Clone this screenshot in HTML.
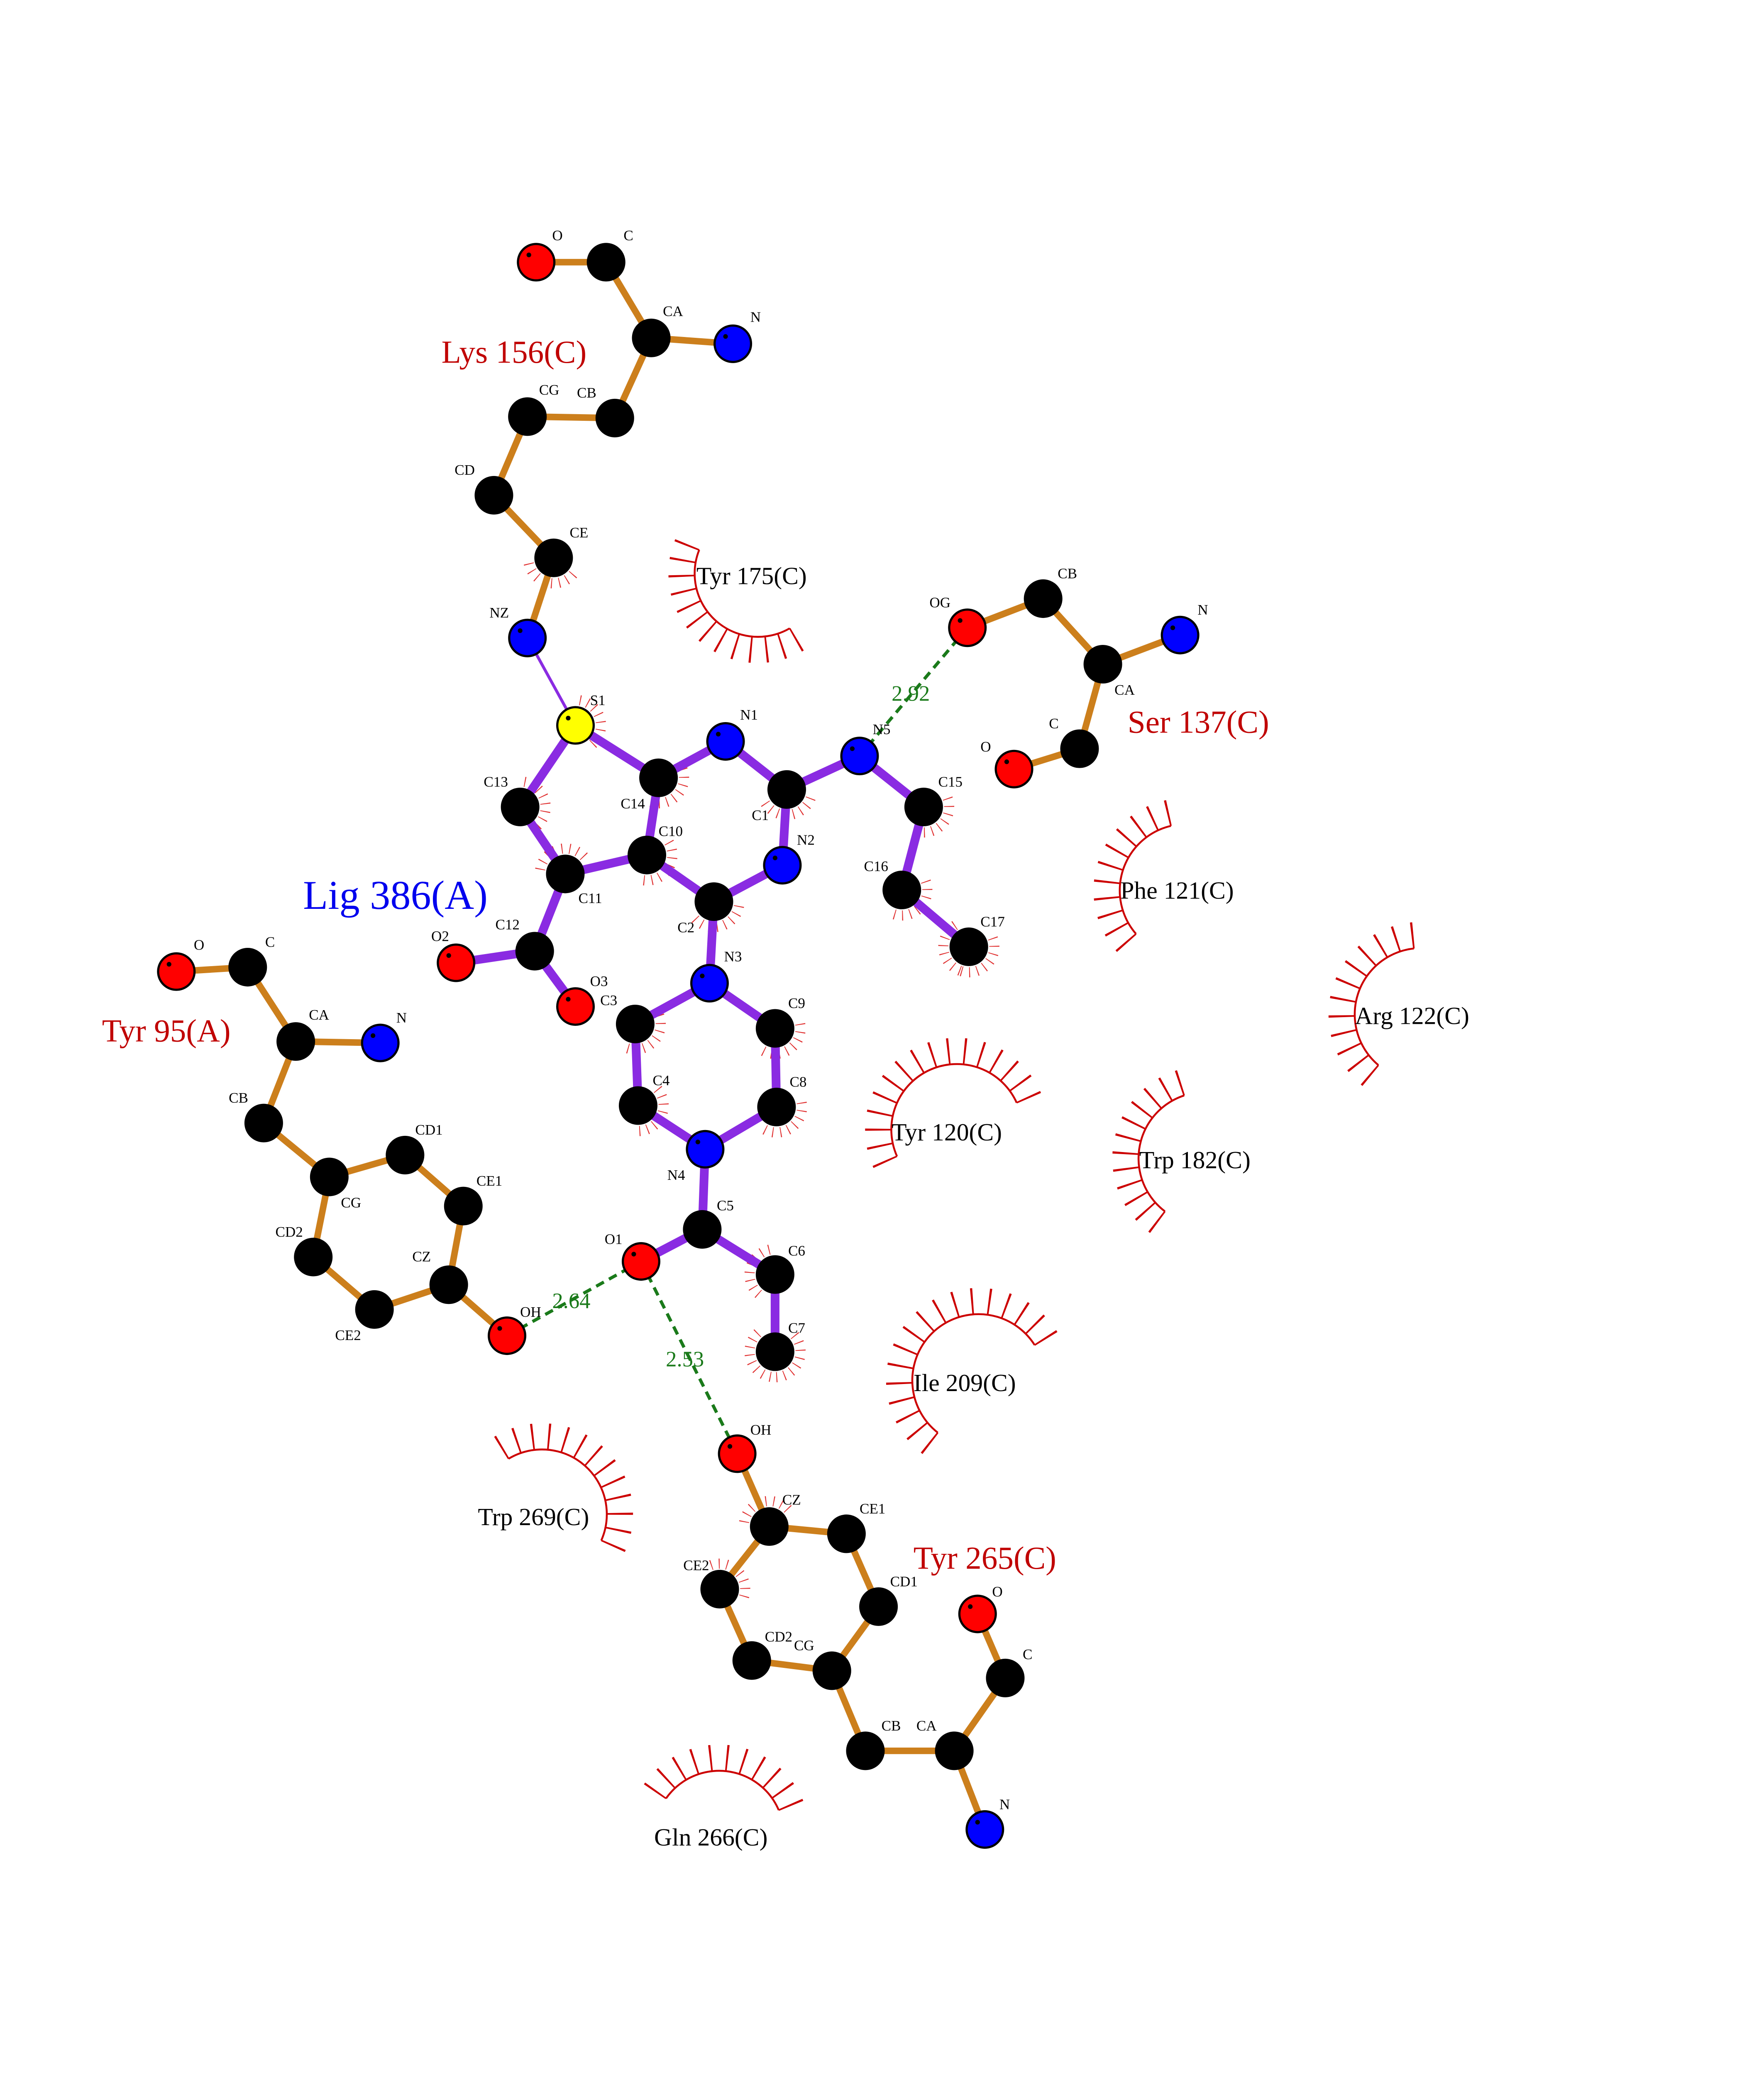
<!DOCTYPE html>
<html><head><meta charset="utf-8"><style>
html,body{margin:0;padding:0;background:#fff;width:4250px;height:5500px;overflow:hidden;}
svg{display:block;position:absolute;left:0;top:0;}
text{font-family:"Liberation Serif",serif;}
.a{font-size:10px;fill:#000;}
.r{font-size:22px;fill:#c00000;}
.h{font-size:17px;fill:#000;}
.d{font-size:15px;fill:#1a7a1a;}
.k{fill:#000;stroke:#000;stroke-width:1.5}
.o{fill:#ff0000;stroke:#000;stroke-width:1.5}
.b{fill:#0000ff;stroke:#000;stroke-width:1.5}
.y{fill:#ffff00;stroke:#000;stroke-width:1.5}
.sb{fill:none;stroke:#e03030;stroke-width:7;stroke-dasharray:2 16 2 16 2 16 2 16 2 16 2 16 2 16 2 400}
</style></head><body>
<svg width="4250" height="5500" viewBox="0 0 1210.8 1567" xmlns="http://www.w3.org/2000/svg">
<g fill="none" stroke="#cc0000" stroke-width="1.3">
<circle cx="520.3" cy="393.7" r="43.5" pathLength="360" stroke-dasharray="142 360" transform="rotate(60 520.3 393.7)"/>
<circle cx="520.3" cy="393.7" r="52.5" stroke-width="18" pathLength="360" stroke-dasharray="1.4 10.43 1.4 10.43 1.4 10.43 1.4 10.43 1.4 10.43 1.4 10.43 1.4 10.43 1.4 10.43 1.4 10.43 1.4 10.43 1.4 10.43 1.4 10.43 1.4 400" transform="rotate(59.3 520.3 393.7)"/>
<circle cx="814.1" cy="611.3" r="45.5" pathLength="360" stroke-dasharray="118 360" transform="rotate(139 814.1 611.3)"/>
<circle cx="814.1" cy="611.3" r="54.5" stroke-width="18" pathLength="360" stroke-dasharray="1.4 10.4 1.4 10.4 1.4 10.4 1.4 10.4 1.4 10.4 1.4 10.4 1.4 10.4 1.4 10.4 1.4 10.4 1.4 10.4 1.4 400" transform="rotate(138.3 814.1 611.3)"/>
<circle cx="975.4" cy="696.4" r="45.5" pathLength="360" stroke-dasharray="134 360" transform="rotate(130 975.4 696.4)"/>
<circle cx="975.4" cy="696.4" r="54.5" stroke-width="18" pathLength="360" stroke-dasharray="1.4 10.78 1.4 10.78 1.4 10.78 1.4 10.78 1.4 10.78 1.4 10.78 1.4 10.78 1.4 10.78 1.4 10.78 1.4 10.78 1.4 10.78 1.4 400" transform="rotate(129.3 975.4 696.4)"/>
<circle cx="656.8" cy="775.5" r="45" pathLength="360" stroke-dasharray="180 360" transform="rotate(156 656.8 775.5)"/>
<circle cx="656.8" cy="775.5" r="54" stroke-width="18" pathLength="360" stroke-dasharray="1.4 10.6 1.4 10.6 1.4 10.6 1.4 10.6 1.4 10.6 1.4 10.6 1.4 10.6 1.4 10.6 1.4 10.6 1.4 10.6 1.4 10.6 1.4 10.6 1.4 10.6 1.4 10.6 1.4 10.6 1.4 400" transform="rotate(155.3 656.8 775.5)"/>
<circle cx="827" cy="795.3" r="45.5" pathLength="360" stroke-dasharray="125 360" transform="rotate(127 827 795.3)"/>
<circle cx="827" cy="795.3" r="54.5" stroke-width="18" pathLength="360" stroke-dasharray="1.4 9.96 1.4 9.96 1.4 9.96 1.4 9.96 1.4 9.96 1.4 9.96 1.4 9.96 1.4 9.96 1.4 9.96 1.4 9.96 1.4 9.96 1.4 400" transform="rotate(126.3 827 795.3)"/>
<circle cx="671.7" cy="947.7" r="45.5" pathLength="360" stroke-dasharray="200 360" transform="rotate(128 671.7 947.7)"/>
<circle cx="671.7" cy="947.7" r="54.5" stroke-width="18" pathLength="360" stroke-dasharray="1.4 11.1 1.4 11.1 1.4 11.1 1.4 11.1 1.4 11.1 1.4 11.1 1.4 11.1 1.4 11.1 1.4 11.1 1.4 11.1 1.4 11.1 1.4 11.1 1.4 11.1 1.4 11.1 1.4 11.1 1.4 11.1 1.4 400" transform="rotate(127.3 671.7 947.7)"/>
<circle cx="372" cy="1039.6" r="44.5" pathLength="360" stroke-dasharray="145 360" transform="rotate(239 372 1039.6)"/>
<circle cx="372" cy="1039.6" r="53.5" stroke-width="18" pathLength="360" stroke-dasharray="1.4 10.68 1.4 10.68 1.4 10.68 1.4 10.68 1.4 10.68 1.4 10.68 1.4 10.68 1.4 10.68 1.4 10.68 1.4 10.68 1.4 10.68 1.4 10.68 1.4 400" transform="rotate(238.3 372 1039.6)"/>
<circle cx="493.6" cy="1260.2" r="44.5" pathLength="360" stroke-dasharray="122 360" transform="rotate(215 493.6 1260.2)"/>
<circle cx="493.6" cy="1260.2" r="53.5" stroke-width="18" pathLength="360" stroke-dasharray="1.4 10.8 1.4 10.8 1.4 10.8 1.4 10.8 1.4 10.8 1.4 10.8 1.4 10.8 1.4 10.8 1.4 10.8 1.4 10.8 1.4 400" transform="rotate(214.3 493.6 1260.2)"/>
</g>
<g>
<circle class="sb" cx="380" cy="383" r="17.5" pathLength="360" transform="rotate(40 380 383)"/>
<circle class="sb" cx="395" cy="498" r="17.5" pathLength="360" transform="rotate(-80 395 498)"/>
<circle class="sb" cx="388" cy="600" r="17.5" pathLength="360" transform="rotate(190 388 600)"/>
<circle class="sb" cx="490" cy="619" r="17.5" pathLength="360" transform="rotate(10 490 619)"/>
<circle class="sb" cx="540" cy="542" r="17.5" pathLength="360" transform="rotate(20 540 542)"/>
<circle class="sb" cx="634" cy="554" r="17.5" pathLength="360" transform="rotate(-20 634 554)"/>
<circle class="sb" cx="619" cy="611" r="17.5" pathLength="360" transform="rotate(-20 619 611)"/>
<circle class="sb" cx="665" cy="650" r="17.5" pathLength="360" transform="rotate(-20 665 650)"/>
<circle class="sb" cx="665" cy="650" r="17.5" pathLength="360" transform="rotate(110 665 650)"/>
<circle class="sb" cx="533" cy="760" r="17.5" pathLength="360" transform="rotate(-10 533 760)"/>
<circle class="sb" cx="532" cy="706" r="17.5" pathLength="360" transform="rotate(-10 532 706)"/>
<circle class="sb" cx="438" cy="759" r="17.5" pathLength="360" transform="rotate(-40 438 759)"/>
<circle class="sb" cx="436" cy="703" r="17.5" pathLength="360" transform="rotate(-20 436 703)"/>
<circle class="sb" cx="532" cy="875" r="17.5" pathLength="360" transform="rotate(130 532 875)"/>
<circle class="sb" cx="532" cy="928" r="17.5" pathLength="360" transform="rotate(-40 532 928)"/>
<circle class="sb" cx="532" cy="928" r="17.5" pathLength="360" transform="rotate(100 532 928)"/>
<circle class="sb" cx="452" cy="534" r="17.5" pathLength="360" transform="rotate(-20 452 534)"/>
<circle class="sb" cx="357" cy="554" r="17.5" pathLength="360" transform="rotate(-80 357 554)"/>
<circle class="sb" cx="444" cy="587" r="17.5" pathLength="360" transform="rotate(-30 444 587)"/>
<circle class="sb" cx="528" cy="1048" r="17.5" pathLength="360" transform="rotate(190 528 1048)"/>
<circle class="sb" cx="494" cy="1091" r="17.5" pathLength="360" transform="rotate(250 494 1091)"/>
</g>
<path fill="none" stroke="#cc7f1c" stroke-width="4.5" d="M368 180L416 180M416 180L447 232M447 232L503 236M447 232L422 287M422 287L362 286M362 286L339 340M339 340L380 383M380 383L362 438M664 431L716 411M716 411L757 456M757 456L810 436M757 456L741 514M741 514L696 528M121 667L170 664M170 664L203 715M203 715L261 716M203 715L181 771M181 771L226 808M226 808L278 793M278 793L318 828M318 828L308 882M226 808L215 863M215 863L257 899M257 899L308 882M308 882L348 917M506 998L528 1048M528 1048L581 1053M581 1053L603 1103M603 1103L571 1147M528 1048L494 1091M494 1091L516 1140M516 1140L571 1147M571 1147L594 1202M594 1202L655 1202M655 1202L676 1256M655 1202L690 1152M690 1152L671 1108"/>
<path fill="none" stroke="#8a2be2" stroke-width="6" d="M395 498L452 534M395 498L357 554M357 554L388 600M388 600L444 587M444 587L452 534M452 534L498 509M498 509L540 542M540 542L590 519M540 542L537 594M537 594L490 619M490 619L444 587M490 619L487 675M388 600L367 653M367 653L313 661M367 653L395 691M487 675L436 703M487 675L532 706M436 703L438 759M532 706L533 760M438 759L484 789M533 760L484 789M484 789L482 844M482 844L440 866M482 844L532 875M532 875L532 928M590 519L634 554M634 554L619 611M619 611L665 650"/>
<path fill="none" stroke="#8a2be2" stroke-width="2" d="M362 438L395 498"/>
<path fill="none" stroke="#1a7a1a" stroke-width="2.2" stroke-dasharray="6 4" d="M664 431L590 519M348 917L440 866M440 866L506 998"/>
<g>
<circle class="o" cx="368" cy="180" r="12.5"/><circle class="k" cx="416" cy="180" r="12.5"/><circle class="k" cx="447" cy="232" r="12.5"/><circle class="b" cx="503" cy="236" r="12.5"/><circle class="k" cx="422" cy="287" r="12.5"/><circle class="k" cx="362" cy="286" r="12.5"/><circle class="k" cx="339" cy="340" r="12.5"/><circle class="k" cx="380" cy="383" r="12.5"/><circle class="b" cx="362" cy="438" r="12.5"/>
<circle class="y" cx="395" cy="498" r="12.5"/><circle class="k" cx="452" cy="534" r="12.5"/><circle class="b" cx="498" cy="509" r="12.5"/><circle class="k" cx="540" cy="542" r="12.5"/><circle class="b" cx="590" cy="519" r="12.5"/><circle class="b" cx="537" cy="594" r="12.5"/><circle class="k" cx="444" cy="587" r="12.5"/><circle class="k" cx="388" cy="600" r="12.5"/><circle class="k" cx="357" cy="554" r="12.5"/><circle class="k" cx="490" cy="619" r="12.5"/><circle class="b" cx="487" cy="675" r="12.5"/><circle class="k" cx="367" cy="653" r="12.5"/><circle class="o" cx="313" cy="661" r="12.5"/><circle class="o" cx="395" cy="691" r="12.5"/><circle class="k" cx="436" cy="703" r="12.5"/><circle class="k" cx="532" cy="706" r="12.5"/><circle class="k" cx="438" cy="759" r="12.5"/><circle class="k" cx="533" cy="760" r="12.5"/><circle class="b" cx="484" cy="789" r="12.5"/><circle class="k" cx="482" cy="844" r="12.5"/><circle class="o" cx="440" cy="866" r="12.5"/><circle class="k" cx="532" cy="875" r="12.5"/><circle class="k" cx="532" cy="928" r="12.5"/><circle class="k" cx="634" cy="554" r="12.5"/><circle class="k" cx="619" cy="611" r="12.5"/><circle class="k" cx="665" cy="650" r="12.5"/>
<circle class="o" cx="664" cy="431" r="12.5"/><circle class="k" cx="716" cy="411" r="12.5"/><circle class="k" cx="757" cy="456" r="12.5"/><circle class="b" cx="810" cy="436" r="12.5"/><circle class="k" cx="741" cy="514" r="12.5"/><circle class="o" cx="696" cy="528" r="12.5"/>
<circle class="o" cx="121" cy="667" r="12.5"/><circle class="k" cx="170" cy="664" r="12.5"/><circle class="k" cx="203" cy="715" r="12.5"/><circle class="b" cx="261" cy="716" r="12.5"/><circle class="k" cx="181" cy="771" r="12.5"/><circle class="k" cx="226" cy="808" r="12.5"/><circle class="k" cx="278" cy="793" r="12.5"/><circle class="k" cx="318" cy="828" r="12.5"/><circle class="k" cx="215" cy="863" r="12.5"/><circle class="k" cx="257" cy="899" r="12.5"/><circle class="k" cx="308" cy="882" r="12.5"/><circle class="o" cx="348" cy="917" r="12.5"/>
<circle class="o" cx="506" cy="998" r="12.5"/><circle class="k" cx="528" cy="1048" r="12.5"/><circle class="k" cx="581" cy="1053" r="12.5"/><circle class="k" cx="494" cy="1091" r="12.5"/><circle class="k" cx="603" cy="1103" r="12.5"/><circle class="k" cx="516" cy="1140" r="12.5"/><circle class="k" cx="571" cy="1147" r="12.5"/><circle class="k" cx="594" cy="1202" r="12.5"/><circle class="k" cx="655" cy="1202" r="12.5"/><circle class="b" cx="676" cy="1256" r="12.5"/><circle class="k" cx="690" cy="1152" r="12.5"/><circle class="o" cx="671" cy="1108" r="12.5"/>
</g>
<g fill="#000">
<circle cx="363" cy="175" r="1.6"/><circle cx="498" cy="231" r="1.6"/><circle cx="357" cy="433" r="1.6"/><circle cx="390" cy="493" r="1.6"/><circle cx="493" cy="504" r="1.6"/><circle cx="585" cy="514" r="1.6"/><circle cx="532" cy="589" r="1.6"/><circle cx="482" cy="670" r="1.6"/><circle cx="308" cy="656" r="1.6"/><circle cx="390" cy="686" r="1.6"/><circle cx="479" cy="784" r="1.6"/><circle cx="435" cy="861" r="1.6"/><circle cx="659" cy="426" r="1.6"/><circle cx="805" cy="431" r="1.6"/><circle cx="691" cy="523" r="1.6"/><circle cx="116" cy="662" r="1.6"/><circle cx="256" cy="711" r="1.6"/><circle cx="343" cy="912" r="1.6"/><circle cx="501" cy="993" r="1.6"/><circle cx="671" cy="1251" r="1.6"/><circle cx="666" cy="1103" r="1.6"/>
</g>
<g>
<text class="a" x="379" y="165">O</text><text class="a" x="428" y="165">C</text><text class="a" x="455" y="217">CA</text><text class="a" x="515" y="221">N</text><text class="a" x="396" y="273">CB</text><text class="a" x="370" y="271">CG</text><text class="a" x="312" y="326">CD</text><text class="a" x="391" y="369">CE</text><text class="a" x="336" y="424">NZ</text>
<text class="a" x="405" y="484">S1</text><text class="a" x="508" y="494">N1</text><text class="a" x="599" y="504">N5</text><text class="a" x="516" y="563">C1</text><text class="a" x="547" y="580">N2</text><text class="a" x="426" y="555">C14</text><text class="a" x="452" y="574">C10</text><text class="a" x="332" y="540">C13</text><text class="a" x="397" y="620">C11</text><text class="a" x="340" y="638">C12</text><text class="a" x="296" y="646">O2</text><text class="a" x="405" y="677">O3</text><text class="a" x="465" y="640">C2</text><text class="a" x="497" y="660">N3</text><text class="a" x="412" y="690">C3</text><text class="a" x="541" y="692">C9</text><text class="a" x="448" y="745">C4</text><text class="a" x="542" y="746">C8</text><text class="a" x="458" y="810">N4</text><text class="a" x="492" y="831">C5</text><text class="a" x="415" y="854">O1</text><text class="a" x="541" y="862">C6</text><text class="a" x="541" y="915">C7</text><text class="a" x="644" y="540">C15</text><text class="a" x="593" y="598">C16</text><text class="a" x="673" y="636">C17</text>
<text class="a" x="638" y="417">OG</text><text class="a" x="726" y="397">CB</text><text class="a" x="822" y="422">N</text><text class="a" x="765" y="477">CA</text><text class="a" x="720" y="500">C</text><text class="a" x="673" y="516">O</text>
<text class="a" x="133" y="652">O</text><text class="a" x="182" y="650">C</text><text class="a" x="212" y="700">CA</text><text class="a" x="272" y="702">N</text><text class="a" x="157" y="757">CB</text><text class="a" x="234" y="829">CG</text><text class="a" x="285" y="779">CD1</text><text class="a" x="327" y="814">CE1</text><text class="a" x="189" y="849">CD2</text><text class="a" x="230" y="920">CE2</text><text class="a" x="283" y="866">CZ</text><text class="a" x="357" y="904">OH</text>
<text class="a" x="515" y="985">OH</text><text class="a" x="537" y="1033">CZ</text><text class="a" x="590" y="1039">CE1</text><text class="a" x="469" y="1078">CE2</text><text class="a" x="611" y="1089">CD1</text><text class="a" x="525" y="1127">CD2</text><text class="a" x="545" y="1133">CG</text><text class="a" x="605" y="1188">CB</text><text class="a" x="629" y="1188">CA</text><text class="a" x="686" y="1242">N</text><text class="a" x="702" y="1139">C</text><text class="a" x="681" y="1096">O</text>
<text class="r" x="303" y="249">Lys 156(C)</text><text class="r" x="774" y="503">Ser 137(C)</text><text class="r" x="70" y="715">Tyr 95(A)</text><text class="r" x="627" y="1077">Tyr 265(C)</text>
<text x="208" y="624" style="font-size:28px;fill:#0000ee">Lig 386(A)</text>
<text class="h" x="478" y="401">Tyr 175(C)</text><text class="h" x="769" y="617">Phe 121(C)</text><text class="h" x="930" y="703">Arg 122(C)</text><text class="h" x="612" y="783">Tyr 120(C)</text><text class="h" x="782" y="802">Trp 182(C)</text><text class="h" x="627" y="955">Ile 209(C)</text><text class="h" x="328" y="1047">Trp 269(C)</text><text class="h" x="449" y="1267">Gln 266(C)</text>
<text class="d" x="612" y="481">2.92</text><text class="d" x="379" y="898">2.64</text><text class="d" x="457" y="938">2.53</text>
<text x="58" y="1470" style="font-size:14px">.</text>
</g>
</svg>
</body></html>
